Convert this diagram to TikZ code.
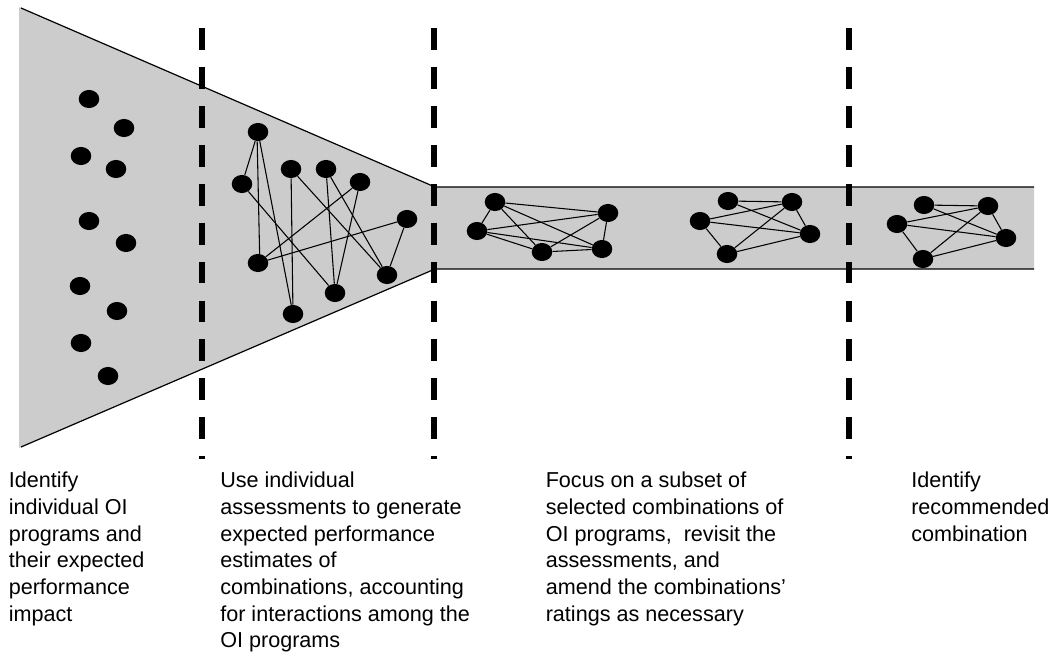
\documentclass[tikz,border=0pt]{standalone}
\usepackage{fontspec}
\setmainfont{Liberation Sans}
\usetikzlibrary{shapes.geometric}
\begin{document}
\begin{tikzpicture}[x=0.75pt,y=-0.75pt,
  dot/.style={ellipse,fill=black,draw=none,inner sep=0pt,minimum width=15.4pt,minimum height=13.6pt},
  edge/.style={line width=0.8pt,black},
  rim/.style={line width=0.9pt,black},
  divider/.style={line width=4pt,black,dash pattern=on 16.4pt off 12.8pt},
  caption/.style={anchor=north west,inner sep=0pt,align=left,
    font=\fontsize{16.2pt}{20pt}\selectfont}]
\useasboundingbox (0,0) rectangle (1064,653);

% funnel narrowing into a band
\fill[black!20] (19,7) -- (435,187) -- (1034,187) -- (1034,269) -- (435,269) -- (19,448) -- cycle;
\draw[rim] (21,8) -- (435,187) -- (1034,187);
\draw[rim] (21,447) -- (435,269) -- (1034,269);

% stage dividers
\coordinate (d1t) at (202,28); \coordinate (d1b) at (202,459);
\coordinate (d2t) at (434,28); \coordinate (d2b) at (434,459);
\coordinate (d3t) at (849,28); \coordinate (d3b) at (849,459);
\draw[divider] (d1t) -- (d1b);
\draw[divider] (d2t) -- (d2b);
\draw[divider] (d3t) -- (d3b);

% individual programs
\node[dot] (p1) at (89,99) {};
\node[dot] (p2) at (124,128) {};
\node[dot] (p3) at (81,156) {};
\node[dot] (p4) at (116,169) {};
\node[dot] (p5) at (89,221) {};
\node[dot] (p6) at (126,243) {};
\node[dot] (p7) at (80,286) {};
\node[dot] (p8) at (117,311) {};
\node[dot] (p9) at (81,343) {};
\node[dot] (p10) at (108,376) {};

% programs with interactions
\node[dot] (A) at (258,132) {};
\node[dot] (B) at (242,184) {};
\node[dot] (C) at (291,169) {};
\node[dot] (D) at (326,169) {};
\node[dot] (E) at (360,182) {};
\node[dot] (F) at (407,219) {};
\node[dot] (G) at (258,263) {};
\node[dot] (H) at (293,314) {};
\node[dot] (I) at (335,293) {};
\node[dot] (J) at (387,275) {};
\draw[edge] (A) -- (B);
\draw[edge] (A.265) -- (G.80);
\draw[edge] (A) -- (H);
\draw[edge] (B) -- (I);
\draw[edge] (C) -- (H);
\draw[edge] (C) -- (J);
\draw[edge] (D) -- (I);
\draw[edge] (D) -- (J);
\draw[edge] (E) -- (G);
\draw[edge] (E) -- (I);
\draw[edge] (F) -- (G);
\draw[edge] (F) -- (J);

% first selected combination
\node[dot] (a) at (495,202) {};
\node[dot] (b) at (477,231) {};
\node[dot] (c) at (608,213) {};
\node[dot] (d) at (542,252) {};
\node[dot] (e) at (602,249) {};
\draw[edge] (a) -- (b);
\draw[edge] (a) -- (c);
\draw[edge] (a) -- (d);
\draw[edge] (a) -- (e);
\draw[edge] (b) -- (c);
\draw[edge] (b) -- (d);
\draw[edge] (b) -- (e);
\draw[edge] (c) -- (d);
\draw[edge] (c) -- (e);
\draw[edge] (d) -- (e);

% second selected combination
\node[dot] (f) at (728,201) {};
\node[dot] (g) at (792,202) {};
\node[dot] (h) at (700,221) {};
\node[dot] (i) at (810,234) {};
\node[dot] (j) at (727,254) {};
\draw[edge] (f) -- (g);
\draw[edge] (f) -- (i);
\draw[edge] (h) -- (g);
\draw[edge] (h) -- (i);
\draw[edge] (h) -- (j);
\draw[edge] (g) -- (j);
\draw[edge] (g) -- (i);
\draw[edge] (j) -- (i);

% recommended combination
\node[dot] (k) at (924,205) {};
\node[dot] (l) at (988,206) {};
\node[dot] (m) at (897,224) {};
\node[dot] (n) at (1006,238) {};
\node[dot] (o) at (923,259) {};
\draw[edge] (k) -- (l);
\draw[edge] (k) -- (n);
\draw[edge] (m) -- (l);
\draw[edge] (m) -- (n);
\draw[edge] (m) -- (o);
\draw[edge] (o) -- (l);
\draw[edge] (l) -- (n);
\draw[edge] (o) -- (n);

% stage descriptions
\node[caption] (t1) at (8.5,472) {Identify\\individual OI\\programs and\\their expected\\performance\\impact};
\node[caption] (t2) at (220,472) {Use individual\\assessments to generate\\expected performance\\estimates of\\combinations, accounting\\for interactions among the\\OI programs};
\node[caption] (t3) at (545.5,472) {Focus on a subset of\\selected combinations of\\OI programs,~ revisit the\\assessments, and\\amend the combinations’\\ratings as necessary};
\node[caption] (t4) at (911,472) {Identify\\recommended\\combination};
\end{tikzpicture}
\end{document}
